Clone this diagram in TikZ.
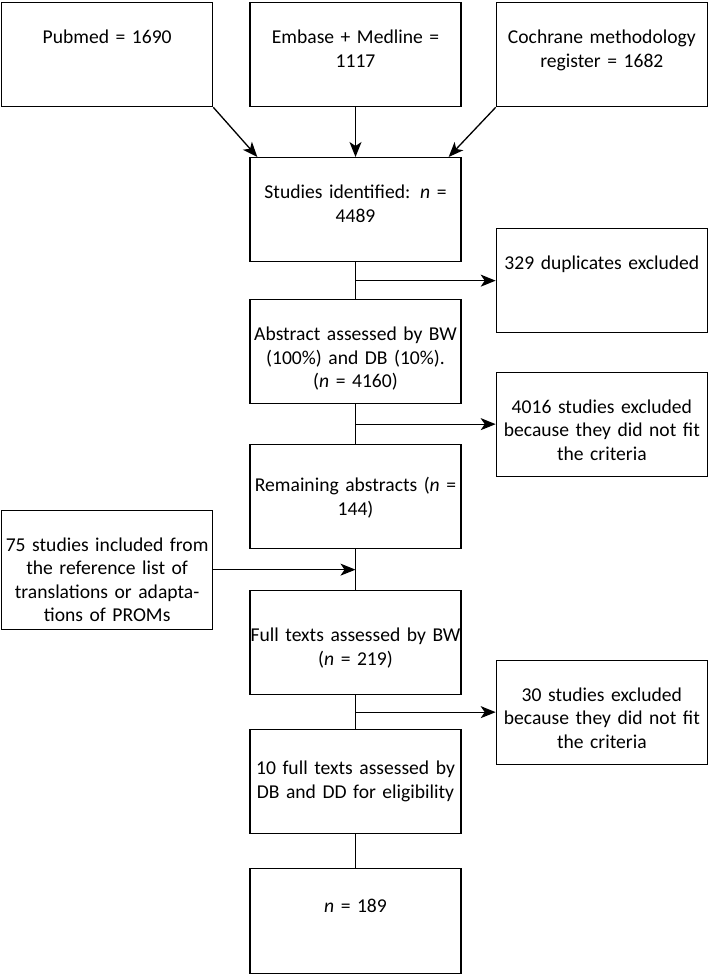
\documentclass[tikz,border=0pt]{standalone}
\usepackage{fontspec}
\setmainfont[WordSpace=0.9]{Carlito}
\usetikzlibrary{arrows.meta,calc,positioning}
\newdimen\boxw
\boxw=211pt
\newcommand{\stagefont}{\fontsize{19.6}{23.5}\selectfont}
\tikzstyle{stage}=[
  draw=black,
  font=\stagefont,
  inner ysep=0pt,
  inner xsep=-10pt,
  line width=1.3pt,
  rectangle,
  text width=\boxw+20pt,
  align=center,
  text height=41pt,
  text depth=63pt,
]
\tikzstyle{arrow}=[
  draw=black,
  line width=1.3pt,
]
\tikzset{
  >={Stealth[length=15pt,width=12pt,inset=4pt]},
}

\begin{document}
\begin{tikzpicture}[x=1pt, y=-1pt]
  \useasboundingbox (0,0) rectangle (709,974);
  %% sources
  \node (pubmed) [stage, anchor=north west] at (1,2) {Pubmed = 1690};
  \node (embase) [stage, anchor=north] at (355.5,2) {Embase + Medline =\\1117};
  \node (cochrane) [stage, anchor=north east] at (708,2) {Cochrane methodology\\register = 1682};
  %% main column
  \node (identified) [stage, anchor=north] at (355.5,157) {Studies identified: \emph{n} =\\4489};
  \node (abstracts) [stage, anchor=north] at (355.5,299) {Abstract assessed by BW\\(100\%) and DB (10\%).\\(\emph{n} = 4160)};
  \node (remaining) [stage, anchor=north, text height=47pt, text depth=57pt] at (355.5,444) {Remaining abstracts (\emph{n} =\\144)};
  \node (fulltexts) [stage, anchor=north, text height=51pt, text depth=53pt] at (355.5,590) {Full texts assessed by BW\\(\emph{n} = 219)};
  \node (eligible) [stage, anchor=north, text height=45pt, text depth=59pt] at (355.5,729) {10 full texts assessed by\\DB and DD for eligibility};
  \node (included) [stage, anchor=north, text height=44pt, text depth=61pt] at (355.5,868) {\emph{n} = 189};
  %% side boxes
  \coordinate (J1) at ($(identified.south)!.5!(abstracts.north)$);
  \node (duplicates) [stage, anchor=west] at (J1 -| cochrane.west) {329 duplicates excluded};
  \coordinate (J2) at ($(abstracts.south)!.5!(remaining.north)$);
  \node (excludedA) [stage, anchor=west] at (J2 -| cochrane.west) {4016 studies excluded\\because they did not fit\\the criteria};
  \coordinate (J3) at ($(remaining.south)!.5!(fulltexts.north)$);
  \node (reflist) [stage, anchor=east, text depth=78pt] at (J3 -| pubmed.east) {75 studies included from\\the reference list of\\translations or adapta-\\tions of PROMs};
  \coordinate (J4) at ($(fulltexts.south)!.5!(eligible.north)$);
  \node (excludedB) [stage, anchor=west] at (J4 -| cochrane.west) {30 studies excluded\\because they did not fit\\the criteria};
  %% connectors
  \draw [->, arrow] (pubmed.south east) -- ($(identified.north west)+(8,0)$);
  \draw [->, arrow] (embase) -- (identified);
  \draw [->, arrow] (cochrane.south west) -- ($(identified.north east)+(-13,0)$);
  \draw [arrow] (identified) -- (abstracts);
  \draw [->, arrow] (J1) -- (duplicates.west);
  \draw [arrow] (abstracts) -- (remaining);
  \draw [->, arrow] (J2) -- (excludedA.west);
  \draw [arrow] (remaining) -- (fulltexts);
  \draw [->, arrow] (reflist.east) -- (J3);
  \draw [arrow] (fulltexts) -- (eligible);
  \draw [->, arrow] (J4) -- (excludedB.west);
  \draw [arrow] (eligible) -- (included);
\end{tikzpicture}
\end{document}
